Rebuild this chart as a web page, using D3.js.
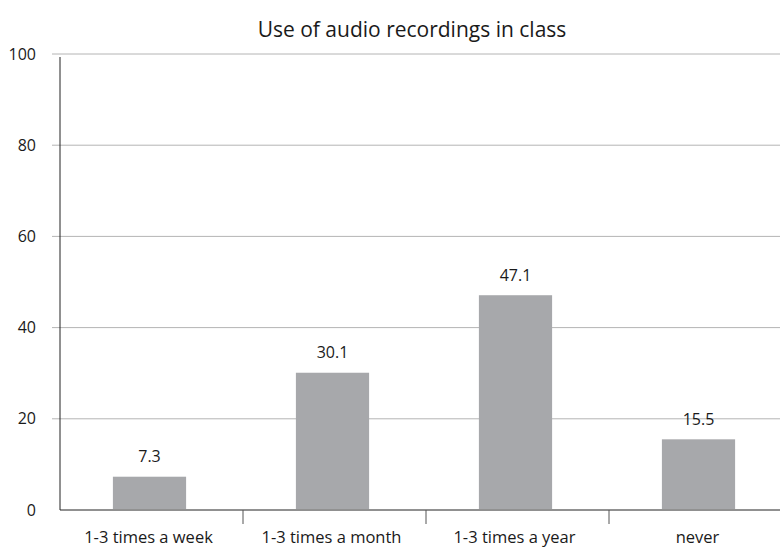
<!DOCTYPE html>
<html>
<head>
<meta charset="utf-8">
<script src="https://cdn.jsdelivr.net/npm/d3@7"></script>
<style>
  html, body { margin: 0; padding: 0; background: #fff; }
  svg { display: block; font-family: "Open Sans", "Noto Sans", sans-serif; }
</style>
</head>
<body>
<svg id="chart" width="780" height="548"></svg>
<script>
// Survey responses: how often audio recordings are used in class (%)
const categories = ["1-3 times a week", "1-3 times a month", "1-3 times a year", "never"];
const values = [7.3, 30.1, 47.1, 15.5];
const yTicks = [0, 20, 40, 60, 80, 100];
const title = "Use of audio recordings in class";

const svg = d3.select("#chart");
const plotLeft = 60, plotRight = 792, plotTop = 54, plotBottom = 510;

const x = d3.scaleBand().domain(categories).range([plotLeft, plotRight]).padding(0);
const y = d3.scaleLinear().domain([0, 100]).range([plotBottom, plotTop]);

// horizontal gridlines
svg.append("g").selectAll("line").data(yTicks.filter(d => d > 0)).join("line")
  .attr("x1", plotLeft - 8).attr("x2", 780)
  .attr("y1", d => y(d)).attr("y2", d => y(d))
  .attr("stroke", "#b4b4b4").attr("stroke-width", 1);

// y tick labels
svg.append("g").selectAll("text").data(yTicks).join("text")
  .attr("x", 36).attr("y", d => y(d)).attr("dy", "0.35em")
  .attr("text-anchor", "end").attr("font-size", 16).attr("fill", "#1a1a1a")
  .text(d => d);

// bars
const barW = x.bandwidth() * 0.4;
const barOffset = x.bandwidth() * 0.3 - 2;
svg.append("g").selectAll("rect").data(values).join("rect")
  .attr("x", (d, i) => x(categories[i]) + barOffset)
  .attr("width", barW)
  .attr("y", d => y(d))
  .attr("height", d => y(0) - y(d) - 1)
  .attr("fill", "#a7a8ab");

// value labels
svg.append("g").selectAll("text").data(values).join("text")
  .attr("x", (d, i) => x(categories[i]) + barOffset + barW / 2)
  .attr("y", d => y(d) - 20).attr("dy", "0.35em")
  .attr("text-anchor", "middle").attr("font-size", 16).attr("fill", "#1a1a1a")
  .text(d => d.toFixed(1));

// y axis line
svg.append("line").attr("x1", plotLeft).attr("x2", plotLeft)
  .attr("y1", plotTop + 3).attr("y2", plotBottom)
  .attr("stroke", "#222").attr("stroke-width", 1);

// x axis baseline
svg.append("line").attr("x1", plotLeft).attr("x2", 780)
  .attr("y1", plotBottom).attr("y2", plotBottom)
  .attr("stroke", "#222").attr("stroke-width", 1);

// category separators
svg.append("g").selectAll("line").data(categories.slice(1)).join("line")
  .attr("x1", d => x(d)).attr("x2", d => x(d))
  .attr("y1", plotBottom).attr("y2", plotBottom + 14)
  .attr("stroke", "#555").attr("stroke-width", 1);

// category labels
svg.append("g").selectAll("text").data(categories).join("text")
  .attr("x", d => x(d) + x.bandwidth() / 2 - 3)
  .attr("y", 537).attr("dy", "0.35em")
  .attr("text-anchor", "middle").attr("font-size", 16.5).attr("fill", "#1a1a1a")
  .text(d => d);

// title
svg.append("text").attr("x", 412).attr("y", 30).attr("dy", "0.35em")
  .attr("text-anchor", "middle").attr("font-size", 21).attr("fill", "#1a1a1a")
  .text(title);
</script>
</body>
</html>
